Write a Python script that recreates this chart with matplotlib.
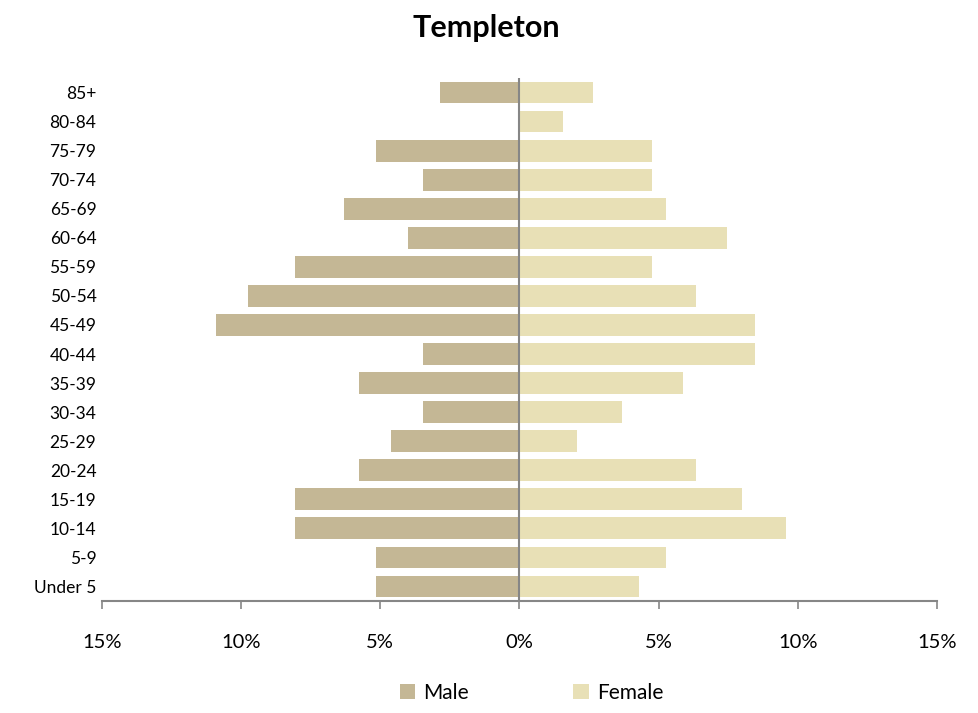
import matplotlib.pyplot as plt
import numpy as np
from matplotlib.ticker import FuncFormatter

ages = ["Under 5", "5-9", "10-14", "15-19", "20-24", "25-29", "30-34", "35-39",
        "40-44", "45-49", "50-54", "55-59", "60-64", "65-69", "70-74", "75-79",
        "80-84", "85+"]
male = [5.17, 5.17, 8.05, 8.05, 5.75, 4.6, 3.45, 5.75,
        3.45, 10.92, 9.77, 8.05, 4.02, 6.32, 3.45, 5.17, 0.0, 2.84]
female = [4.28, 5.28, 9.59, 7.98, 6.36, 2.08, 3.70, 5.86,
          8.48, 8.48, 6.36, 4.78, 7.47, 5.28, 4.78, 4.78, 1.58, 2.66]

male_color = "#C4B795"
female_color = "#E8E0B6"
gray = "#868686"

plt.rcParams["font.family"] = ["Lato", "DejaVu Sans"]

fig = plt.figure(figsize=(9.79, 7.13), dpi=100)
ax = fig.add_axes([0.1042, 0.1571, 0.8528, 0.7335])

y = np.arange(len(ages))
ax.barh(y, -np.array(male), height=0.75, color=male_color, label="Male")
ax.barh(y, female, height=0.75, color=female_color, label="Female")
ax.axvline(0, color=gray, lw=1.5, zorder=3)

ax.set_xlim(-15, 15)
ax.set_ylim(-0.5, len(ages) - 0.5)
ax.set_xticks([-15, -10, -5, 0, 5, 10, 15])
ax.xaxis.set_major_formatter(FuncFormatter(lambda v, p: f"{abs(v):.0f}%"))
ax.set_yticks(y, ages)

for s in ["top", "right", "left"]:
    ax.spines[s].set_visible(False)
ax.spines["bottom"].set_color(gray)
ax.spines["bottom"].set_linewidth(1.5)
ax.tick_params(axis="x", direction="out", length=6, width=1.2, color=gray,
               labelsize=14.5, pad=18)
ax.tick_params(axis="y", length=0, labelsize=12.5, pad=4)

fig.suptitle("Templeton", fontsize=22, fontweight="bold", x=0.497, y=0.98)

fig.legend(loc="lower center", ncol=2, frameon=False, fontsize=15,
           bbox_to_anchor=(0.543, -0.012), handlelength=0.75, handleheight=0.75,
           columnspacing=5, handletextpad=0.4)

fig.savefig("out.png", dpi=100)
